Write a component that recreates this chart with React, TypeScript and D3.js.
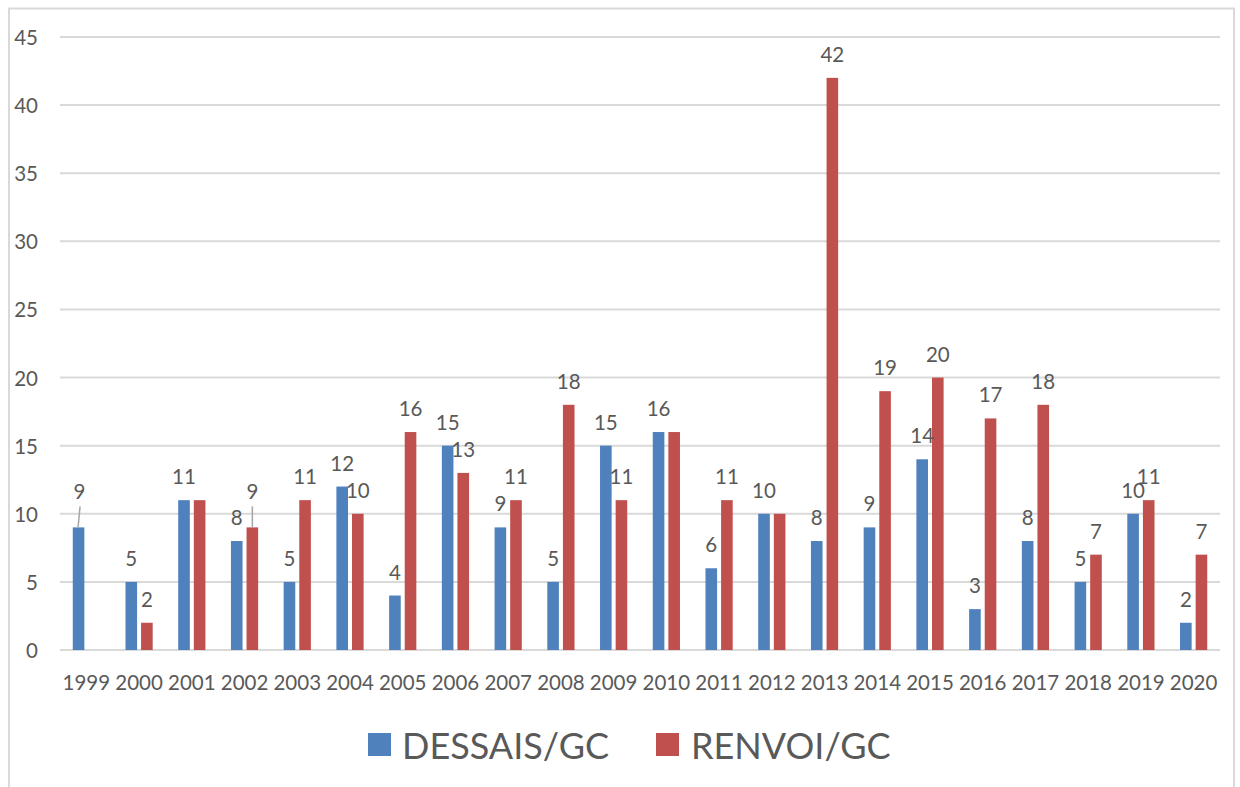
import React from "react";
import * as d3 from "d3";

const years = ["1999","2000","2001","2002","2003","2004","2005","2006","2007","2008","2009","2010","2011","2012","2013","2014","2015","2016","2017","2018","2019","2020"];
const dessais = [9,5,11,8,5,12,4,15,9,5,15,16,6,10,8,9,14,3,8,5,10,2];
const renvoi: (number | null)[] = [null,2,11,9,11,10,16,13,11,18,11,16,11,10,42,19,20,17,18,7,11,7];
const yTicks = [0,5,10,15,20,25,30,35,40,45];
const seriesNames = ["DESSAIS/GC", "RENVOI/GC"];
const seriesColors = ["#4f81bd", "#c0504d"];
// labels that were dragged up with a leader line: [series index, year]
const leaderLabels: [number, string][] = [[0, "1999"], [1, "2002"]];

const W = 1240, H = 787;
const FONT = "Lato, 'Open Sans', sans-serif";
const TXT = "#595959";

export default function App() {
  const x = d3.scaleBand<string>().domain(years).range([60, 1220]).paddingInner(0).paddingOuter(0);
  const y = d3.scaleLinear().domain([0, 45]).range([650, 37]);
  const bw = x.bandwidth();
  const barW = bw * 0.22;
  const gap = bw * 0.076;
  const barX = (i: number, s: number) => {
    const c = (x(years[i]) as number) + bw / 2;
    return s === 0 ? c - gap / 2 - barW : c + gap / 2;
  };
  const isLeader = (s: number, yr: string) => leaderLabels.some(([a, b]) => a === s && b === yr);

  const series = [dessais, renvoi];

  return (
    <svg width={W} height={H} style={{ position: "absolute", left: 0, top: 0, background: "#fff" }}>
      <rect x={0} y={0} width={W} height={H} fill="#fff" />
      <rect x={9} y={8.5} width={1225} height={H} fill="none" stroke="#d9d9d9" strokeWidth={2} />
      {yTicks.map((t) => (
        <g key={t}>
          <line x1={60} x2={1220} y1={y(t)} y2={y(t)} stroke="#d9d9d9" strokeWidth={2} />
          <text x={38} y={y(t)} textAnchor="end" dominantBaseline="central" fontFamily={FONT} fontSize={20.5} fill={TXT}>{t}</text>
        </g>
      ))}
      {series.map((vals, s) =>
        vals.map((v, i) =>
          v == null || v === 0 ? null : (
            <rect key={`b${s}-${i}`} x={barX(i, s)} y={y(v)} width={barW} height={y(0) - y(v)} fill={seriesColors[s]} />
          )
        )
      )}
      {series.map((vals, s) =>
        vals.map((v, i) => {
          if (v == null) return null;
          if (s === 1 && v === dessais[i]) return null;
          const cx = barX(i, s) + barW / 2;
          const lead = isLeader(s, years[i]);
          const ly = y(v) - 24 - (lead ? 12 : 0);
          return (
            <g key={`l${s}-${i}`}>
              {lead && (
                <line x1={cx + (s === 0 ? 1.5 : 0)} y1={ly + 15} x2={cx - (s === 0 ? 0.5 : 0)} y2={y(v)} stroke="#a6a6a6" strokeWidth={1.5} />
              )}
              <text x={cx + (lead && s === 0 ? 1 : 0)} y={ly} textAnchor="middle" dominantBaseline="central" fontFamily={FONT} fontSize={20.5} fill={TXT}>{v}</text>
            </g>
          );
        })
      )}
      {years.map((yr) => (
        <text key={yr} x={(x(yr) as number) + bw / 2} y={682} textAnchor="middle" dominantBaseline="central" fontFamily={FONT} fontSize={20.5} fill={TXT}>{yr}</text>
      ))}
      <g>
        <rect x={368} y={733} width={23} height={23} fill={seriesColors[0]} />
        <text x={402} y={745} dominantBaseline="central" fontFamily={FONT} fontSize={36} fill={TXT}>{seriesNames[0]}</text>
        <rect x={656} y={733} width={23} height={23} fill={seriesColors[1]} />
        <text x={691} y={745} dominantBaseline="central" fontFamily={FONT} fontSize={36} fill={TXT}>{seriesNames[1]}</text>
      </g>
    </svg>
  );
}
